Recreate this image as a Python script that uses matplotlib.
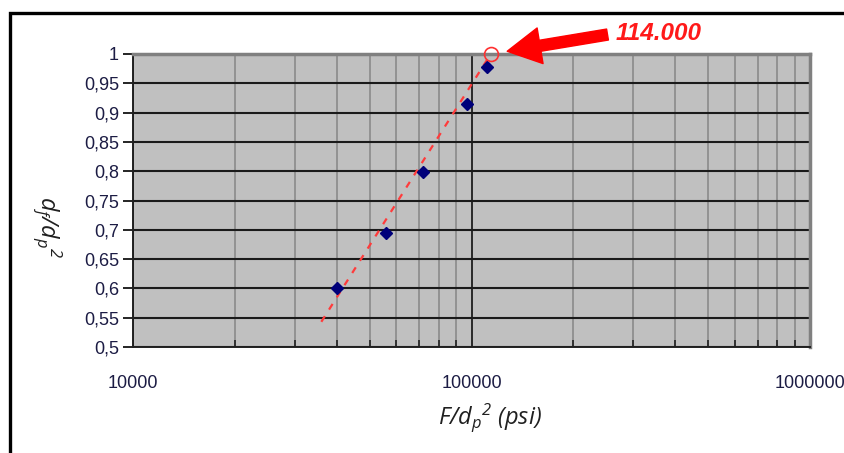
import matplotlib
matplotlib.use('Agg')
import matplotlib.pyplot as plt
from matplotlib.patches import Rectangle
from matplotlib.ticker import FixedLocator, LogLocator, NullFormatter

# measured points (F/dp^2 in psi, df/dp^2)
load = [40000, 56000, 72000, 96800, 110800]
ratio = [0.601, 0.694, 0.799, 0.914, 0.978]

# fitted trend line ends and extrapolated point
fit_x = [36000, 114000]
fit_y = [0.543, 1.0]
limit_x = 114000
limit_y = 1.0
limit_label = '114.000'

y_ticks = [0.5, 0.55, 0.6, 0.65, 0.7, 0.75, 0.8, 0.85, 0.9, 0.95, 1.0]
y_labels = ['0,5', '0,55', '0,6', '0,65', '0,7', '0,75', '0,8', '0,85',
            '0,9', '0,95', '1']
x_ticks = [1e4, 1e5, 1e6]
x_labels = ['10000', '100000', '1000000']

plt.rcParams['font.family'] = ['Liberation Sans', 'DejaVu Sans']
plt.rcParams['mathtext.fontset'] = 'custom'
plt.rcParams['mathtext.it'] = 'Open Sans:italic'
plt.rcParams['mathtext.rm'] = 'Open Sans:italic'

fig = plt.figure(figsize=(8.45, 4.53), dpi=100)
fig.patches.append(Rectangle((10 / 845, -0.1), 1.2, 1.1 - 13 / 453,
                             transform=fig.transFigure, fill=False,
                             edgecolor='black', lw=2.4))

ax = fig.add_axes([133 / 845, 1 - 347 / 453, 677 / 845, 293 / 453])
ax.set_facecolor('#c0c0c0')
ax.set_xscale('log')
ax.set_xlim(1e4, 1e6)
ax.set_ylim(0.5, 1.0)

ax.xaxis.set_major_locator(FixedLocator(x_ticks))
ax.set_xticklabels(x_labels)
ax.xaxis.set_minor_locator(LogLocator(base=10, subs=range(2, 10)))
ax.xaxis.set_minor_formatter(NullFormatter())
ax.set_yticks(y_ticks)
ax.set_yticklabels(y_labels)

ax.grid(True, which='minor', axis='x', color='#929292', lw=1.4)
ax.grid(True, which='major', axis='x', color='#101010', lw=1.2)
ax.grid(True, which='major', axis='y', color='#1a1a1a', lw=1.5)
ax.set_axisbelow(True)

label_color = '#1c1c44'
ax.tick_params(axis='y', direction='out', length=7, width=1.2,
               labelsize=13, labelcolor=label_color, pad=3)
ax.tick_params(axis='x', which='major', length=0, labelsize=13,
               labelcolor=label_color, pad=20)
ax.tick_params(axis='x', which='minor', direction='in', length=5, width=1.2,
               color='#202020')

for side in ['left', 'bottom']:
    ax.spines[side].set_color('#202020')
    ax.spines[side].set_linewidth(1.4)
for side in ['top', 'right']:
    ax.spines[side].set_color('#808080')
    ax.spines[side].set_linewidth(2.5)

ax.plot(fit_x, fit_y, color='#ff3b3b', lw=1.6, dashes=(3, 3.5), zorder=3)
ax.plot(load, ratio, ls='none', marker='D', markersize=6.5,
        color='#00007a', zorder=4)
ax.plot([limit_x], [limit_y], ls='none', marker='o', markersize=10,
        markerfacecolor='none', markeredgecolor='#ff3030', mew=1.2,
        clip_on=False, zorder=5)

ax.annotate(limit_label, xy=(limit_x, limit_y), xytext=(90, 15),
            textcoords='offset points', ha='left', va='center',
            fontsize=17.5, fontweight='bold', fontstyle='italic',
            color='#ff1a1a', annotation_clip=False,
            arrowprops=dict(arrowstyle='simple,head_length=2.4,head_width=2.6,'
                                       'tail_width=0.8',
                            mutation_scale=10, color='#ff0000',
                            shrinkA=4, shrinkB=12, relpos=(0, 0.5)))

fig.text(490 / 845, 1 - 418 / 453, r'$F/d_p{}^2$ (psi)', ha='center',
         va='center', fontsize=17, fontstyle='italic',
         family='Open Sans', color='#202020')
fig.text(47 / 845, 1 - 227 / 453, r'$d_f/d_p{}^2$', ha='center',
         va='center', fontsize=17, rotation=-90, color='#202020')

fig.savefig('out.png', dpi=100)
